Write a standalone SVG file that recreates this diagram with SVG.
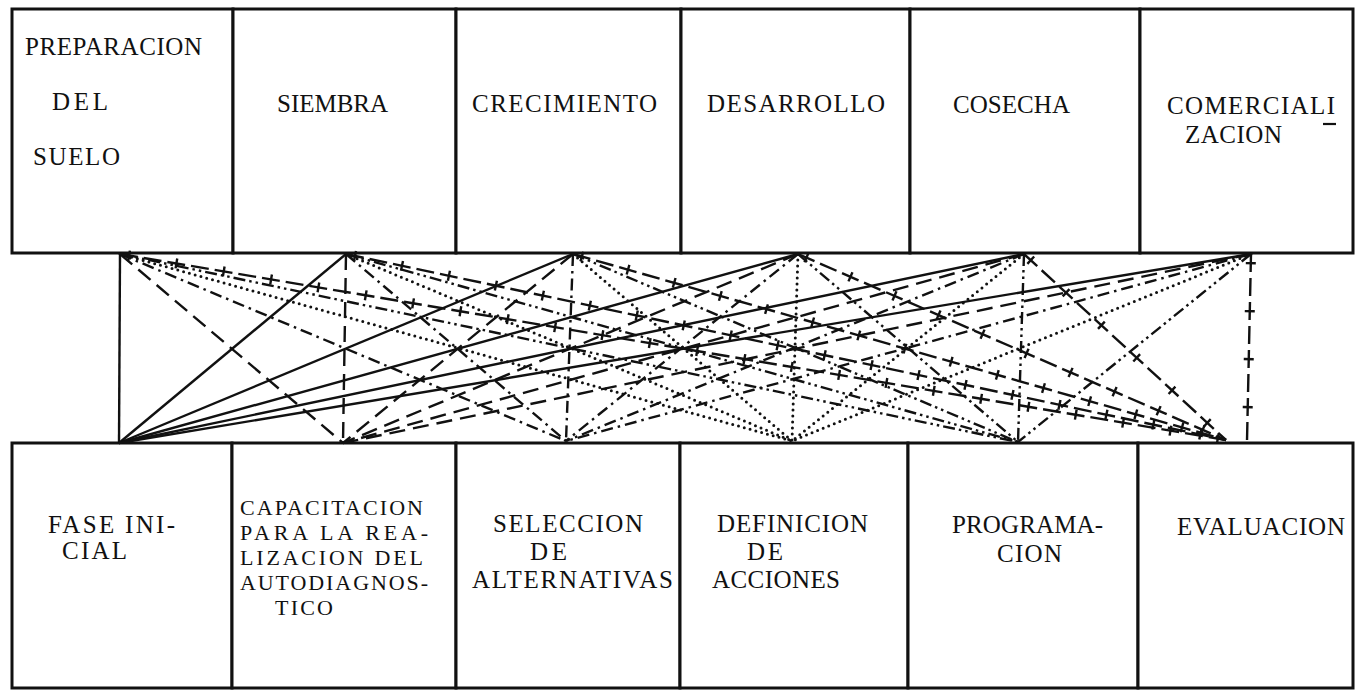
<svg xmlns="http://www.w3.org/2000/svg" width="1355" height="690" viewBox="0 0 1355 690">
<style>
.box{fill:#fff;stroke:#111;stroke-width:3}
.t{font-family:"Liberation Serif","Times New Roman",serif;font-size:25px;fill:#111}
.sm{font-size:22px}
.c{fill:none;stroke:#111;stroke-width:2.4}
.s0{}
.s1{stroke-dasharray:16 8}
.s2{stroke-dasharray:12 5 2.5 5}
.s3{stroke-dasharray:0 6;stroke-linecap:round;stroke-width:3}
.s4{stroke-dasharray:12 4 2.5 4 2.5 4}
.s5{stroke-dasharray:18 6}
.p5{stroke-width:10;stroke-dasharray:2.4 45.6;stroke-dashoffset:-8}
</style>
<rect width="1355" height="690" fill="#fff"/>
<g id="top-row">
<g id="preparacion"><rect class="box" x="12" y="9" width="221" height="244"/><text class="t" x="25" y="55" textLength="177" lengthAdjust="spacing">PREPARACION</text><text class="t" x="52" y="110" textLength="56" lengthAdjust="spacing">DEL</text><text class="t" x="33" y="165" textLength="87" lengthAdjust="spacing">SUELO</text></g>
<g id="siembra"><rect class="box" x="233" y="9" width="223" height="244"/><text class="t" x="277" y="112" textLength="111" lengthAdjust="spacing">SIEMBRA</text></g>
<g id="crecimiento"><rect class="box" x="456" y="9" width="225" height="244"/><text class="t" x="472" y="112" textLength="185" lengthAdjust="spacing">CRECIMIENTO</text></g>
<g id="desarrollo"><rect class="box" x="681" y="9" width="229" height="244"/><text class="t" x="707" y="112" textLength="178" lengthAdjust="spacing">DESARROLLO</text></g>
<g id="cosecha"><rect class="box" x="910" y="9" width="230" height="244"/><text class="t" x="953" y="113" textLength="117" lengthAdjust="spacing">COSECHA</text></g>
<g id="comercializacion"><rect class="box" x="1140" y="9" width="213" height="244"/><text class="t" x="1167" y="114" textLength="168" lengthAdjust="spacing">COMERCIALI</text><line x1="1323" y1="124" x2="1336" y2="124" stroke="#111" stroke-width="2.2"/><text class="t" x="1185" y="143" textLength="97" lengthAdjust="spacing">ZACION</text></g>
</g>
<g id="bottom-row">
<g id="fase-inicial"><rect class="box" x="12" y="443" width="220" height="245"/><text class="t" x="48" y="533" textLength="127" lengthAdjust="spacing">FASE INI-</text><text class="t" x="62" y="559" textLength="65" lengthAdjust="spacing">CIAL</text></g>
<g id="capacitacion"><rect class="box" x="232" y="443" width="224" height="245"/><text class="t sm" x="240" y="515" textLength="183" lengthAdjust="spacing">CAPACITACION</text><text class="t sm" x="240" y="540" textLength="188" lengthAdjust="spacing">PARA LA REA-</text><text class="t sm" x="240" y="565" textLength="183" lengthAdjust="spacing">LIZACION DEL</text><text class="t sm" x="240" y="590" textLength="188" lengthAdjust="spacing">AUTODIAGNOS-</text><text class="t sm" x="275" y="615" textLength="58" lengthAdjust="spacing">TICO</text></g>
<g id="seleccion"><rect class="box" x="456" y="443" width="224" height="245"/><text class="t" x="493" y="532" textLength="150" lengthAdjust="spacing">SELECCION</text><text class="t" x="530" y="560" textLength="37" lengthAdjust="spacing">DE</text><text class="t" x="472" y="588" textLength="201" lengthAdjust="spacing">ALTERNATIVAS</text></g>
<g id="definicion"><rect class="box" x="680" y="443" width="228" height="245"/><text class="t" x="717" y="532" textLength="151" lengthAdjust="spacing">DEFINICION</text><text class="t" x="747" y="560" textLength="36" lengthAdjust="spacing">DE</text><text class="t" x="712" y="588" textLength="128" lengthAdjust="spacing">ACCIONES</text></g>
<g id="programacion"><rect class="box" x="908" y="443" width="230" height="245"/><text class="t" x="952" y="533" textLength="151" lengthAdjust="spacing">PROGRAMA-</text><text class="t" x="997" y="562" textLength="65" lengthAdjust="spacing">CION</text></g>
<g id="evaluacion"><rect class="box" x="1138" y="443" width="215" height="245"/><text class="t" x="1177" y="535" textLength="168" lengthAdjust="spacing">EVALUACION</text></g>
</g>
<g id="connectors">
<line class="c s0" x1="120" y1="254" x2="119" y2="443"/>
<line class="c s0" x1="346" y1="254" x2="119" y2="443"/>
<line class="c s0" x1="573" y1="254" x2="119" y2="443"/>
<line class="c s0" x1="798" y1="254" x2="119" y2="443"/>
<line class="c s0" x1="1024" y1="254" x2="119" y2="443"/>
<line class="c s0" x1="1251" y1="254" x2="119" y2="443"/>
<line class="c s1" x1="120" y1="254" x2="343" y2="443"/>
<line class="c s1" x1="346" y1="254" x2="343" y2="443"/>
<line class="c s1" x1="573" y1="254" x2="343" y2="443"/>
<line class="c s1" x1="798" y1="254" x2="343" y2="443"/>
<line class="c s1" x1="1024" y1="254" x2="343" y2="443"/>
<line class="c s1" x1="1251" y1="254" x2="343" y2="443"/>
<line class="c s2" x1="120" y1="254" x2="566" y2="441"/>
<line class="c s2" x1="346" y1="254" x2="566" y2="441"/>
<line class="c s2" x1="573" y1="254" x2="566" y2="441"/>
<line class="c s2" x1="798" y1="254" x2="566" y2="441"/>
<line class="c s2" x1="1024" y1="254" x2="566" y2="441"/>
<line class="c s2" x1="1251" y1="254" x2="566" y2="441"/>
<line class="c s3" x1="120" y1="254" x2="792" y2="441"/>
<line class="c s3" x1="346" y1="254" x2="792" y2="441"/>
<line class="c s3" x1="573" y1="254" x2="792" y2="441"/>
<line class="c s3" x1="798" y1="254" x2="792" y2="441"/>
<line class="c s3" x1="1024" y1="254" x2="792" y2="441"/>
<line class="c s3" x1="1251" y1="254" x2="792" y2="441"/>
<line class="c s4" x1="120" y1="254" x2="1018" y2="442"/>
<line class="c s4" x1="346" y1="254" x2="1018" y2="442"/>
<line class="c s4" x1="573" y1="254" x2="1018" y2="442"/>
<line class="c s4" x1="798" y1="254" x2="1018" y2="442"/>
<line class="c s4" x1="1024" y1="254" x2="1018" y2="442"/>
<line class="c s4" x1="1251" y1="254" x2="1018" y2="442"/>
<line class="c s5" x1="120" y1="254" x2="1226" y2="440"/>
<line class="c s5" x1="346" y1="254" x2="1226" y2="440"/>
<line class="c s5" x1="573" y1="254" x2="1226" y2="440"/>
<line class="c s5" x1="798" y1="254" x2="1226" y2="440"/>
<line class="c s5" x1="1024" y1="254" x2="1226" y2="440"/>
<line class="c s5" x1="1251" y1="254" x2="1247" y2="441"/>
<line class="c p5" x1="120" y1="254" x2="1226" y2="440"/>
<line class="c p5" x1="346" y1="254" x2="1226" y2="440"/>
<line class="c p5" x1="573" y1="254" x2="1226" y2="440"/>
<line class="c p5" x1="798" y1="254" x2="1226" y2="440"/>
<line class="c p5" x1="1024" y1="254" x2="1226" y2="440"/>
<line class="c p5" x1="1251" y1="254" x2="1247" y2="441"/>
</g>
</svg>
